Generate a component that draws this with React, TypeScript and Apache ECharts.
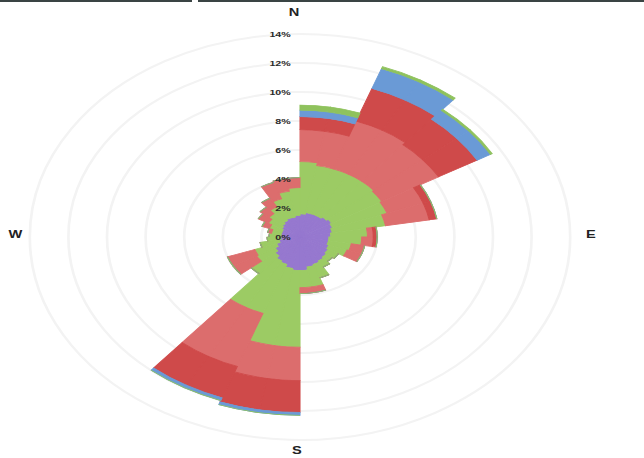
import React, { useEffect, useRef } from "react";
import * as echarts from "echarts";

// 36 direction bins of 10 degrees, clockwise from North
const directions = [
  "0°", "10°", "20°", "30°", "40°", "50°", "60°", "70°", "80°",
  "90°", "100°", "110°", "120°", "130°", "140°", "150°", "160°", "170°",
  "180°", "190°", "200°", "210°", "220°", "230°", "240°", "250°", "260°",
  "270°", "280°", "290°", "300°", "310°", "320°", "330°", "340°", "350°",
];

// frequency (%) of each speed class per direction bin (stacked inner -> outer)
const classPurple = [1.6, 1.7, 1.7, 1.7, 1.8, 1.9, 1.8, 1.7, 1.6, 1.5, 1.5, 1.6, 1.7, 1.8, 1.9, 2.0, 2.1, 2.3, 2.3, 2.2, 2.0, 1.9, 1.7, 1.5, 1.3, 1.1, 1.0, 1.0, 1.0, 1.0, 1.1, 1.2, 1.3, 1.4, 1.4, 1.5];
const classGreen = [3.6, 3.3, 3.3, 3.3, 3.2, 3.0, 3.0, 2.8, 1.9, 1.7, 1.2, 1.0, 0.6, 0.4, 0.5, 1.0, 1.4, 1.2, 5.3, 5.4, 3.6, 3.7, 1.6, 1.1, 1.2, 1.0, 0.7, 0.6, 0.5, 0.7, 0.8, 0.9, 1.1, 1.4, 1.8, 1.9];
const classLightRed = [2.2, 2.4, 3.5, 3.5, 3.3, 3.4, 2.0, 2.3, 0.3, 0.6, 0.7, 0.8, 0, 0, 0, 0, 0.4, 0.4, 2.3, 2.3, 3.9, 3.9, 0, 1.4, 1.5, 0, 0, 0, 0.2, 0.4, 0.6, 0.6, 0.7, 1.2, 0.9, 0.7];
const classDarkRed = [0.9, 0.9, 2.4, 2.4, 2.3, 2.3, 0.4, 0.4, 0.2, 0.2, 0, 0, 0, 0, 0, 0, 0, 0, 2.2, 2.2, 2.3, 2.3, 0, 0, 0, 0, 0, 0, 0, 0, 0, 0, 0, 0, 0, 0];
const classBlue = [0.45, 0.45, 1.45, 1.45, 0.8, 0.8, 0, 0, 0, 0, 0, 0, 0, 0, 0, 0, 0, 0, 0.2, 0.2, 0.2, 0.2, 0, 0, 0, 0, 0, 0, 0, 0, 0, 0, 0, 0, 0, 0];
const classTopGreen = [0.35, 0.35, 0.15, 0.15, 0.1, 0.1, 0, 0, 0, 0, 0, 0, 0, 0, 0, 0, 0, 0, 0, 0, 0, 0, 0, 0, 0, 0, 0, 0, 0, 0, 0, 0, 0, 0, 0, 0];

const seriesNames = ["Class 1", "Class 2", "Class 3", "Class 4", "Class 5", "Class 6"];
const seriesColors = ["#9678cf", "#9ccb64", "#dc6d6d", "#cf4a4a", "#6a9ad6", "#8fc25d"];

const radialMax = 14;
const radialStep = 2;
const compassLabels = ["N", "E", "S", "W"];

const STRETCH = 1.331; // reference is stretched horizontally
const BASE_W = 484;
const BASE_H = 458;

export default function App() {
  const ref = useRef<HTMLDivElement>(null);

  useEffect(() => {
    if (!ref.current) return;
    const chart = echarts.init(ref.current, undefined, { renderer: "svg" });
    const cx = 300 / STRETCH;
    const cy = 237;
    const R = 203;
    const layers = [classPurple, classGreen, classLightRed, classDarkRed, classBlue, classTopGreen];
    const font = "'Liberation Sans', Arial, sans-serif";

    const compassPos: Record<string, [number, number]> = {
      N: [294 / STRETCH, 12],
      E: [591 / STRETCH, 234],
      S: [297 / STRETCH, 450],
      W: [15.5 / STRETCH, 234],
    };

    chart.setOption({
      animation: false,
      backgroundColor: "#ffffff",
      polar: [
        { center: [cx, cy], radius: R },
        { center: [cx, cy], radius: R },
      ],
      angleAxis: [
        {
          polarIndex: 0,
          type: "category",
          data: directions,
          startAngle: 90,
          clockwise: true,
          boundaryGap: true,
          axisLine: { show: false },
          axisTick: { show: false },
          axisLabel: { show: false },
          splitLine: { show: false },
        },
        {
          polarIndex: 1,
          type: "value",
          min: 0,
          max: 360,
          startAngle: 90,
          show: false,
        },
      ],
      radiusAxis: [
        {
          polarIndex: 0,
          type: "value",
          min: 0,
          max: radialMax,
          interval: radialStep,
          axisLine: { show: false },
          axisTick: { show: false },
          axisLabel: { show: false },
          splitLine: { show: true, lineStyle: { color: "#f3f3f3", width: 2 } },
          z: 0,
        },
        {
          polarIndex: 1,
          type: "value",
          min: 0,
          max: radialMax,
          interval: radialStep,
          axisLine: { show: false },
          axisTick: { show: false },
          splitLine: { show: false },
          axisLabel: {
            show: true,
            formatter: "{value}%",
            fontSize: 8,
            fontWeight: "bold",
            color: "#2a2a2a",
            fontFamily: font,
            margin: 7,
          },
          z: 10,
        },
      ],
      graphic: [
        { type: "rect", shape: { x: 0, y: 0, width: 192 / STRETCH, height: 2 }, style: { fill: "#3a4444" } },
        { type: "rect", shape: { x: 198 / STRETCH, y: 0, width: BASE_W, height: 2 }, style: { fill: "#3a4444" } },
        ...compassLabels.map((t) => ({
          type: "text",
          x: compassPos[t][0],
          y: compassPos[t][1],
          z: 20,
          style: {
            text: t,
            fontSize: 11,
            fontWeight: "bold",
            fontFamily: font,
            fill: "#222222",
            align: "center",
            verticalAlign: "middle",
          },
        })),
      ],
      series: layers.map((d, i) => ({
        type: "bar",
        name: seriesNames[i],
        coordinateSystem: "polar",
        polarIndex: 0,
        stack: "wind",
        data: d,
        barCategoryGap: "0%",
        itemStyle: {
          color: seriesColors[i],
          borderColor: seriesColors[i],
          borderWidth: 0.8,
        },
        silent: true,
      })),
    });

    return () => chart.dispose();
  }, []);

  return (
    <div
      ref={ref}
      style={{
        position: "absolute",
        left: 0,
        top: 0,
        width: BASE_W,
        height: BASE_H,
        transform: `scaleX(${STRETCH})`,
        transformOrigin: "0 0",
      }}
    />
  );
}
